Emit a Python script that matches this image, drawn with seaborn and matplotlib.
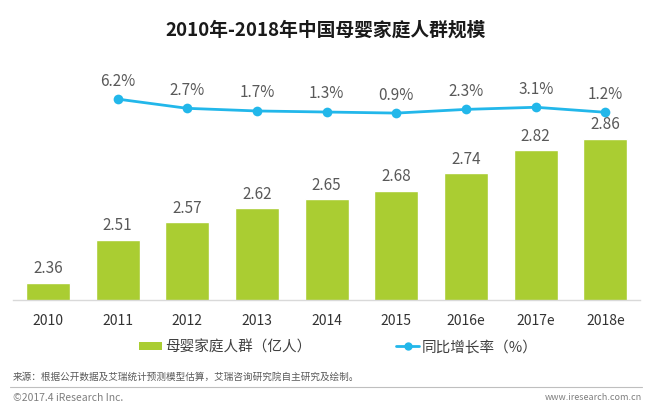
import numpy as np
import pandas as pd
import seaborn as sns
import matplotlib.pyplot as plt
from matplotlib.lines import Line2D
from matplotlib.patches import Patch

years = ["2010", "2011", "2012", "2013", "2014", "2015", "2016e", "2017e", "2018e"]
population = [2.36, 2.51, 2.57, 2.62, 2.65, 2.68, 2.74, 2.82, 2.86]
growth_years = years[1:]
growth = [6.2, 2.7, 1.7, 1.3, 0.9, 2.3, 3.1, 1.2]

bar_color = "#aacd32"
line_color = "#22b7ea"
text_color = "#595959"

sns.set_style("white")
plt.rcParams['font.family'] = ['Noto Sans CJK SC', 'DejaVu Sans']

df = pd.DataFrame({"year": years, "pop": population})
gdf = pd.DataFrame({"pos": [years.index(y) for y in growth_years], "growth": growth})

fig = plt.figure(figsize=(6.52, 4.06), dpi=100)
ax = fig.add_axes([0.02, 0.2586, 0.962, 0.5934])

sns.barplot(data=df, x="year", y="pop", color=bar_color, width=0.63,
            saturation=1, ax=ax)
ax.set_ylim(2.30, 3.137)
ax.set_xlim(-0.5, 8.5)
ax.set_xlabel("")
ax.set_ylabel("")
ax.set_yticks([])
for s in ["top", "right", "left"]:
    ax.spines[s].set_visible(False)
ax.spines["bottom"].set_color("#d9d9d9")
ax.spines["bottom"].set_linewidth(1)
ax.tick_params(axis="x", length=0, labelsize=10, colors="#333333", pad=9)

for i, v in enumerate(population):
    ax.text(i, v + 0.022, f"{v:.2f}", ha="center", va="bottom",
            fontsize=11, color=text_color)

ax2 = ax.twinx()
sns.lineplot(data=gdf, x="pos", y="growth", color=line_color, linewidth=2,
             marker="o", markersize=7, markeredgewidth=0, ax=ax2)
ax2.set_ylim(-69.9, 21.35)
ax2.set_yticks([])
ax2.set_ylabel("")
ax2.set_xlabel("")
for s in ax2.spines.values():
    s.set_visible(False)

for x, v in zip(gdf["pos"], growth):
    ax2.text(x, v + 4.0, f"{v}%", ha="center", va="bottom",
             fontsize=11, color=text_color)

fig.text(0.5, 0.925, "2010年-2018年中国母婴家庭人群规模", ha="center", va="center",
         fontsize=13.5, fontweight="bold", color="#1a1a1a")

handles = [Patch(facecolor=bar_color, edgecolor="none"),
           Line2D([0], [0], color=line_color, linewidth=2, marker="o",
                  markersize=6, markeredgewidth=0)]
labels = ["母婴家庭人群（亿人）", "同比增长率（%）"]
fig.legend(handles, labels, loc="center", bbox_to_anchor=(0.519, 0.143), ncol=2,
           frameon=False, fontsize=10.5, handlelength=1.6, handleheight=0.5,
           handletextpad=0.2, columnspacing=5.8, labelcolor="#404040")

fig.text(0.02, 0.072, "来源：根据公开数据及艾瑞统计预测模型估算，艾瑞咨询研究院自主研究及绘制。",
         fontsize=6.9, color="#595959", va="center")
fig.add_artist(Line2D([0.015, 0.985], [0.045, 0.045], color="#bfbfbf", linewidth=0.8))
fig.text(0.02, 0.02, "©2017.4 iResearch Inc.", fontsize=7.5, color="#7f7f7f", va="center")
fig.text(0.985, 0.02, "www.iresearch.com.cn", fontsize=6.5, color="#7f7f7f",
         va="center", ha="right")

fig.savefig("out.png", dpi=100)
